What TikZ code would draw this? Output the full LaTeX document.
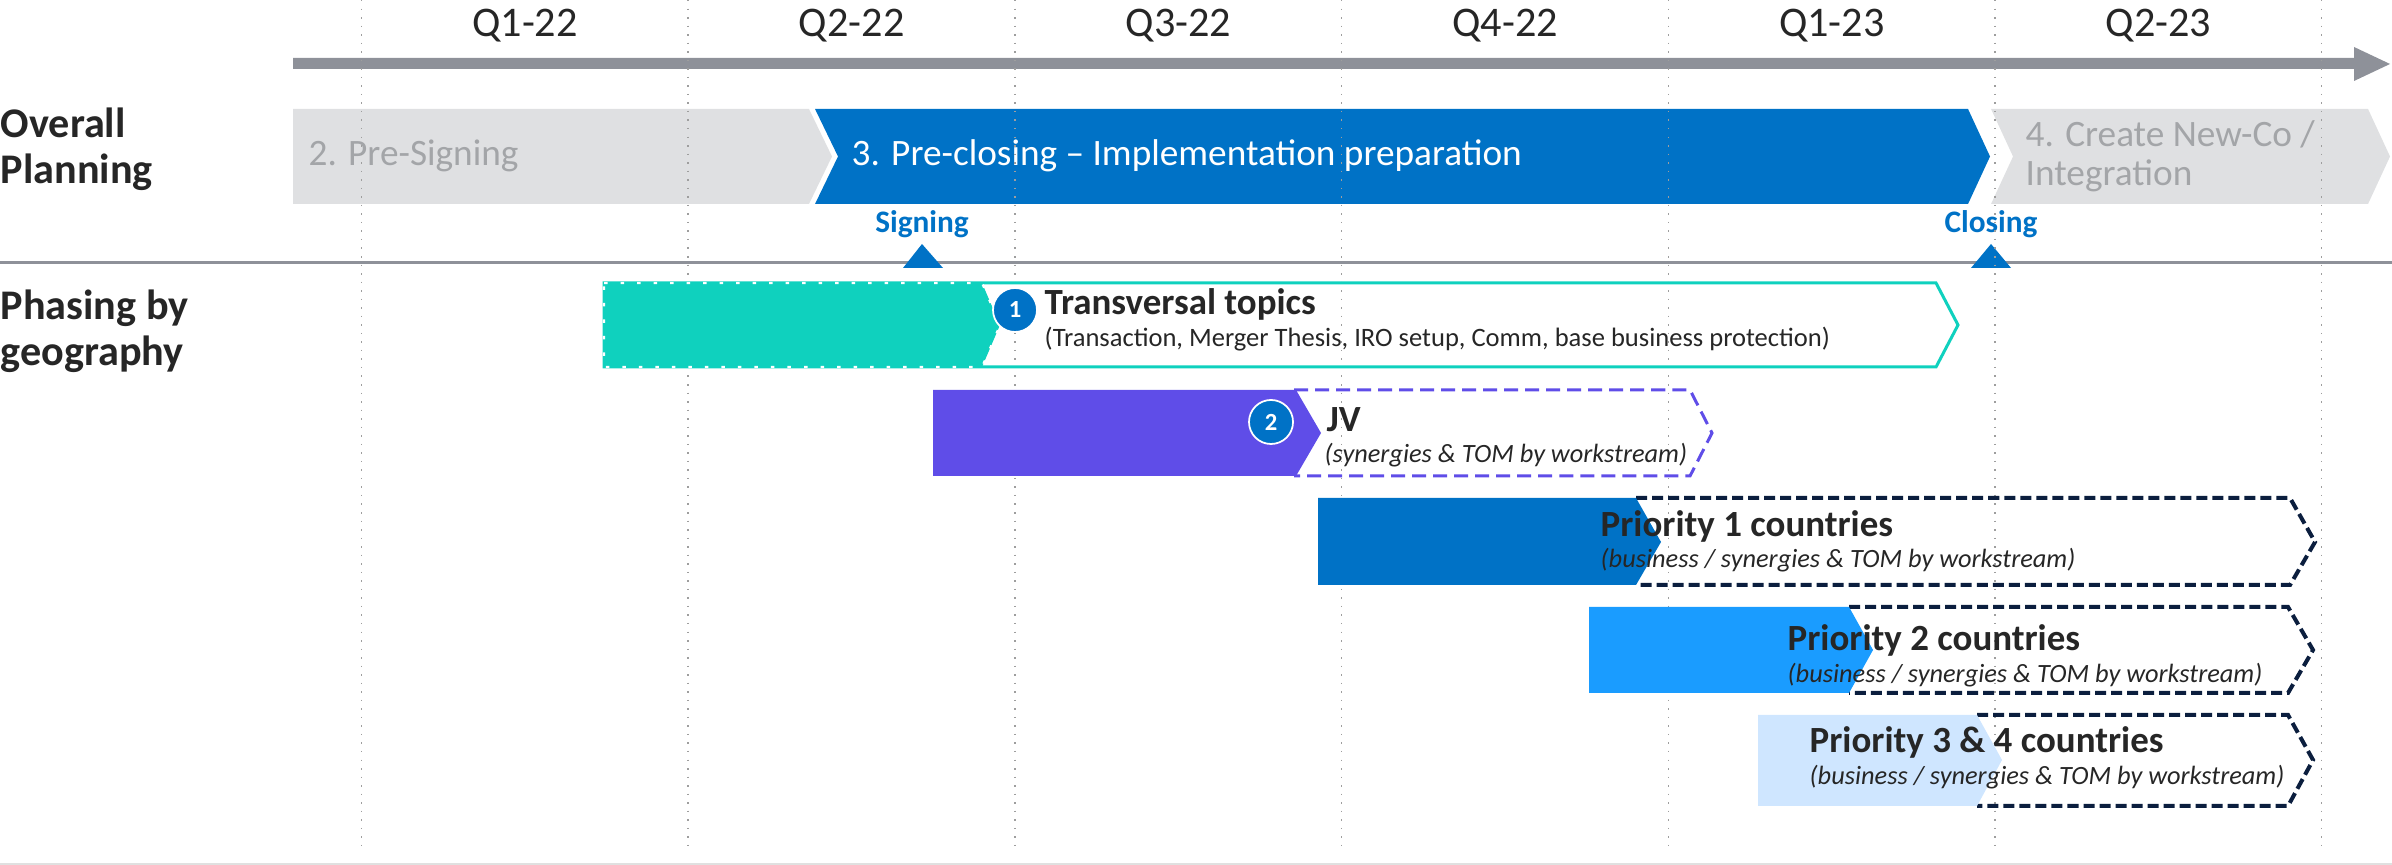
\documentclass[tikz,border=0pt]{standalone}
\usepackage{fontspec}
\setmainfont{Carlito}
\usepackage{xcolor}
\usepackage{tikz}

\definecolor{axisgray}{HTML}{8E9199}
\definecolor{bandgray}{HTML}{DFE0E2}
\definecolor{bandtext}{HTML}{A3A5A8}
\definecolor{mainblue}{HTML}{0072C6}
\definecolor{transteal}{HTML}{0FD1BE}
\definecolor{jvpurple}{HTML}{5F4DE8}
\definecolor{prioblue}{HTML}{1A9CFF}
\definecolor{priolight}{HTML}{CFE6FF}
\definecolor{navyline}{HTML}{0B1E3E}
\definecolor{darktext}{HTML}{262626}

\begin{document}
\begin{tikzpicture}
	[
	   x = 0.01cm, y = -0.01cm,
	   lbl/.style = {inner sep = 0pt, text = darktext},
	   quarter/.style = {lbl, anchor = base, font = \fontsize{12}{14}\selectfont},
	   rowhead/.style = {lbl, anchor = base west, align = left, font = \fontsize{12}{13.1}\selectfont\bfseries},
	   bandlbl/.style = {lbl, anchor = base west, align = left, font = \fontsize{10.6}{11.1}\selectfont},
	   milestone/.style = {lbl, anchor = base, text = mainblue, font = \fontsize{8.9}{10}\selectfont\bfseries},
	   gridline/.style = {black!38, dotted, line width = 0.015cm},
	   phasefill/.style = {draw = white, line width = 0.6pt, dash pattern = on 0.035cm off 0.13cm},
	   navydash/.style = {draw = navyline, line width = 0.04cm, dash pattern = on 0.11cm off 0.05cm},
	   topic/.style = {lbl, anchor = base west, font = \fontsize{10.5}{12}\selectfont\bfseries},
	   subtopic/.style = {lbl, anchor = base west, font = \fontsize{7.5}{9}\selectfont\itshape},
	   numdot/.style = {circle, fill = mainblue, draw = white, line width = 0.5pt, minimum size = 0.44cm, inner sep = 0pt, text = white, font = \fontsize{7}{8}\selectfont\bfseries},
	]
	\useasboundingbox (0,0) rectangle (2392,865);

	% time axis
	\fill[axisgray] (293,58) -- (2354,58) -- (2354,47) -- (2390,64) -- (2354,81) -- (2354,69) -- (293,69) -- cycle;
	\foreach \lab [count = \i from 0] in {Q1-22, Q2-22, Q3-22, Q4-22, Q1-23, Q2-23}
		\node[quarter] (q\i) at (525+326.7*\i,37) {\lab};

	% overall planning
	\fill[bandgray] (293,109) -- (809,109) -- (832,156.5) -- (809,204) -- (293,204) -- cycle;
	\fill[mainblue] (815,109) -- (1968,109) -- (1990,156.5) -- (1968,204) -- (815,204) -- (838,156.5) -- cycle;
	\fill[bandgray] (1991,109) -- (2368,109) -- (2390,156.5) -- (2368,204) -- (1991,204) -- (2013,156.5) -- cycle;
	\node[rowhead] (overall) at (0,184) {Overall\\Planning};
	\node[bandlbl, text = bandtext] (presign) at (308,166) {2. Pre-Signing};
	\node[bandlbl, text = white] (preclose) at (851,166) {3. Pre-closing – Implementation preparation};
	\node[bandlbl, text = bandtext] (newco) at (2025,186) {4. Create New-Co /\\Integration};

	% milestones
	\draw[axisgray, line width = 0.03cm] (0,263) -- (2392,263);
	\fill[mainblue] (903,268) -- (922,244) -- (943,268) -- cycle;
	\fill[mainblue] (1971,268) -- (1991,244) -- (2011,268) -- cycle;
	\node[milestone] (signing) at (922,233) {Signing};
	\node[milestone] (closing) at (1991,233) {Closing};

	\foreach \i in {0,...,6}
		\draw[gridline] (361.5+326.7*\i,0) -- (361.5+326.7*\i,848);

	% phasing by geography
	\node[rowhead] (phasing) at (0,366) {Phasing by\\geography};

	\draw[transteal, line width = 0.03cm] (604,283) -- (1936,283) -- (1958,325) -- (1936,367) -- (604,367) -- cycle;
	\fill[transteal, phasefill] (604,283) -- (982,283) -- (1000,325) -- (982,367) -- (604,367) -- cycle;
	\node[numdot] (n1) at (1015,310) {1};
	\node[topic] (transversal) at (1044,315) {Transversal topics};
	\node[lbl, anchor = base west, font = \fontsize{7.55}{9}\selectfont] (transsub) at (1044,347) {(Transaction, Merger Thesis, IRO setup, Comm, base business protection)};

	\draw[jvpurple, line width = 0.03cm, dash pattern = on 0.14cm off 0.07cm] (1294,390) -- (1690,390) -- (1712,433) -- (1690,476) -- (1294,476);
	\fill[jvpurple] (933,390) -- (1296,390) -- (1321,433) -- (1296,476) -- (933,476) -- cycle;
	\node[numdot] (n2) at (1271,422) {2};
	\node[topic] (jv) at (1326,432) {JV};
	\node[subtopic] (jvsub) at (1324,463) {(synergies \& TOM by workstream)};

	\draw[navydash] (1636,498) -- (2290,498) -- (2315,542) -- (2290,585) -- (1636,585);
	\fill[mainblue] (1318,498) -- (1636,498) -- (1661,542) -- (1636,585) -- (1318,585) -- cycle;
	\node[topic] (prio1) at (1600,537) {Priority 1 countries};
	\node[subtopic] (prio1sub) at (1600,568) {(business / synergies \& TOM by workstream)};

	\draw[navydash] (1849,607) -- (2288,607) -- (2313,650) -- (2288,693) -- (1849,693);
	\fill[prioblue] (1589,607) -- (1849,607) -- (1873,650) -- (1849,693) -- (1589,693) -- cycle;
	\node[topic] (prio2) at (1787,651) {Priority 2 countries};
	\node[subtopic] (prio2sub) at (1787,683) {(business / synergies \& TOM by workstream)};

	\draw[navydash] (1977,715) -- (2288,715) -- (2313,760) -- (2288,806) -- (1977,806);
	\fill[priolight] (1758,715) -- (1977,715) -- (2002,760) -- (1977,806) -- (1758,806) -- cycle;
	\node[topic] (prio3) at (1809,753) {Priority 3 \& 4 countries};
	\node[subtopic] (prio3sub) at (1809,785) {(business / synergies \& TOM by workstream)};

	\draw[black!12, line width = 0.02cm] (0,864) -- (2392,864);
\end{tikzpicture}
\end{document}
